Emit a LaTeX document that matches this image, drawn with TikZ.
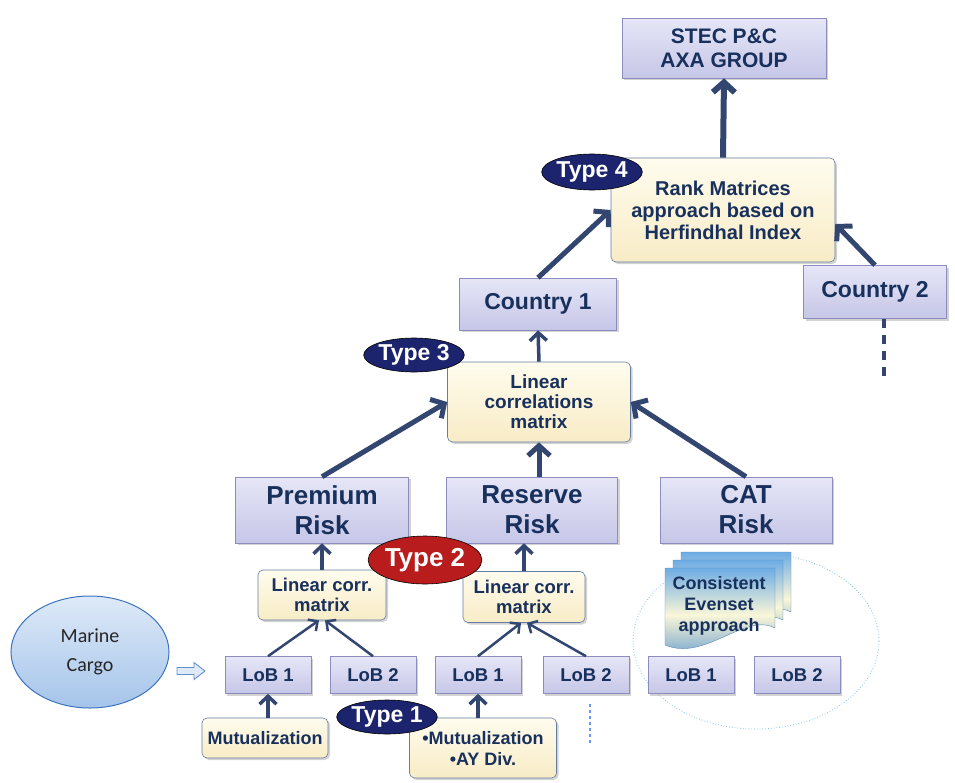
\documentclass[tikz,border=0pt]{standalone}
\usepackage{fontspec}
\setmainfont{Liberation Sans}
\newfontfamily\cargofont{Carlito}
\usetikzlibrary{arrows.meta,shapes.geometric,shadows}

\definecolor{navytext}{RGB}{24,48,92}
\definecolor{arrowc}{RGB}{50,70,112}
\definecolor{lavtop}{RGB}{230,230,247}
\definecolor{lavbot}{RGB}{198,198,232}
\definecolor{lavline}{RGB}{140,140,190}
\definecolor{creamtop}{RGB}{255,252,238}
\definecolor{creambot}{RGB}{248,236,198}
\definecolor{creamline}{RGB}{100,125,165}
\definecolor{typeblue}{RGB}{28,36,110}
\definecolor{typered}{RGB}{185,28,28}
\definecolor{cargotop}{RGB}{222,234,248}
\definecolor{cargobot}{RGB}{165,196,234}
\definecolor{cargoline}{RGB}{62,115,190}
\definecolor{evblue}{RGB}{110,172,228}
\definecolor{evcream}{RGB}{250,246,216}
\definecolor{ringc}{RGB}{130,190,235}

\newcommand{\fsz}[2]{\fontsize{#1}{#2}\selectfont}
\newcommand{\blt}{\textbullet}

\tikzset{
  riskbox/.style={draw=lavline, line width=0.6pt, top color=lavtop, bottom color=lavbot,
    text=navytext, font=\bfseries, align=center, inner sep=1pt,
    drop shadow={opacity=0.35, shadow xshift=2pt, shadow yshift=-2pt}},
  matbox/.style={riskbox, draw=creamline, top color=creamtop, bottom color=creambot, rounded corners=5pt},
  typetag/.style={ellipse, draw=black, line width=0.6pt, fill=typeblue, text=white, font=\bfseries, inner sep=0pt},
  bigarrow/.style={draw=arrowc, line width=5pt, -{Straight Barb[length=10pt,width=22pt]}},
  midarrow/.style={draw=arrowc, line width=3.5pt, -{Straight Barb[length=8pt,width=17pt]}},
  smallarrow/.style={draw=arrowc, line width=2.5pt, -{Straight Barb[length=7pt,width=14pt]}}
}

\begin{document}
\begin{tikzpicture}[x=1pt, y=-1pt]
	%%%%% START %%%%%
	\useasboundingbox (0,0) rectangle (955,782);

	% top levels
	\node[riskbox, minimum width=204pt, minimum height=60pt, font=\bfseries\fsz{21}{24}] (stec) at (724,48) {STEC P\&C\\AXA GROUP};
	\node[matbox, minimum width=224pt, minimum height=104pt, font=\bfseries\fsz{20}{22}] (rank) at (723,210) {Rank Matrices\\approach based on\\Herfindhal Index};
	\node[riskbox, minimum width=157pt, minimum height=52pt, font=\bfseries\fsz{23}{24}] (c1) at (538,304) {Country 1};
	\node[riskbox, minimum width=143pt, minimum height=53pt, font=\bfseries\fsz{23}{24}] (c2) at (875,292) {Country 2};
	\node[matbox, minimum width=183pt, minimum height=80pt, font=\bfseries\fsz{19}{20}] (lin) at (539,402) {Linear\\correlations\\matrix};

	% risk modules
	\node[riskbox, minimum width=173pt, minimum height=66pt, font=\bfseries\fsz{26}{30}] (prem) at (322,510) {Premium\\Risk};
	\node[riskbox, minimum width=171pt, minimum height=66pt, font=\bfseries\fsz{26}{30}] (res) at (532,510) {Reserve\\Risk};
	\node[riskbox, minimum width=172pt, minimum height=66pt, font=\bfseries\fsz{26}{30}] (cat) at (746,510) {CAT\\Risk};

	\node[matbox, minimum width=128pt, minimum height=50pt, font=\bfseries\fsz{18.5}{20}] (lca) at (322,595) {Linear corr.\\matrix};
	\node[matbox, minimum width=122pt, minimum height=51pt, font=\bfseries\fsz{18.5}{20}] (lcb) at (524,597) {Linear corr.\\matrix};

	% CAT evenset
	\draw[ringc, line width=0.8pt, dotted] (756,641) ellipse [x radius=123, y radius=88];
	\foreach \d in {16,8,0}
	  \draw[shift={(\d,-\d)}, draw=evblue!80!black, line width=0.4pt, top color=evblue, bottom color=evblue!90!black, middle color=evcream]
	    (665,568) -- (775,568) -- (775,628) .. controls (745,612) and (705,662) .. (665,645) -- cycle;
	\node[text=navytext, align=center, font=\bfseries\fsz{18}{21}] (evs) at (719,606) {Consistent\\Evenset\\approach};

	% LoB row
	\foreach \nm/\x/\t in {loba1/268/LoB 1, loba2/373/LoB 2, lobb1/478/LoB 1, lobb2/586/LoB 2, lobc1/691/LoB 1, lobc2/797/LoB 2}
	  \node[riskbox, minimum width=86pt, minimum height=37pt, font=\bfseries\fsz{18.5}{20}] (\nm) at (\x,675) {\t};

	\node[matbox, minimum width=126pt, minimum height=40pt, font=\bfseries\fsz{18}{20}] (muta) at (265,738) {Mutualization};
	\node[matbox, minimum width=147pt, minimum height=60pt, font=\bfseries\fsz{18}{21}] (mutb) at (483,748) {\blt Mutualization\\\blt AY Div.};

	% marine cargo
	\node[ellipse, draw=cargoline, line width=1pt, top color=cargotop, bottom color=cargobot,
	  minimum width=158pt, minimum height=112pt, text=black!85, align=center, font=\cargofont\fsz{20}{29}] (cargo) at (90,652) {Marine\\Cargo};
	\coordinate (dbls) at (177,671);
	\coordinate (dble) at (205,671);
	\draw[cargoline!80, line width=0.9pt, fill=cargotop, line join=miter]
	  (dbls) ++(0,-3.5) -- ++(17,0) -- ++(0,-5) -- (dble) -- ++(-11,8.5) -- ++(0,-5) -- ++(-17,0) -- cycle;

	% connectors
	\draw[bigarrow, line width=6pt] (rank.north) -- (stec.south);
	\draw[bigarrow] (c1.north) -- (rank.west);
	\draw[bigarrow] (c2.north) -- ([yshift=-14pt]rank.east);
	\coordinate (c2tail) at (884,378);
	\draw[arrowc, line width=4pt, dash pattern=on 9pt off 7pt] (c2.south -| c2tail) -- (c2tail);
	\draw[midarrow] (lin.north) -- (c1.south);
	\draw[bigarrow] (prem.north) -- (lin.west);
	\draw[bigarrow] (res.north -| lin.south) -- (lin.south);
	\draw[bigarrow] (cat.north) -- (lin.east);
	\draw[midarrow] (lca.north) -- (prem.south);
	\draw[midarrow] (lcb.north) -- (lcb.north |- res.south);
	\draw[smallarrow] (loba1.north) -- ([xshift=-3pt]lca.south);
	\draw[smallarrow] (loba2.north) -- ([xshift=3pt]lca.south);
	\draw[smallarrow] (lobb1.north) -- ([xshift=-3pt]lcb.south);
	\draw[smallarrow] (lobb2.north) -- ([xshift=3pt]lcb.south);
	\draw[midarrow] (muta.north -| loba1.south) -- (loba1.south);
	\draw[midarrow] (lobb1.south |- mutb.north) -- (lobb1.south);
	\coordinate (lobtail) at (590,745);
	\draw[ringc!80!blue, line width=1.2pt, dashed, shorten <=10pt] (lobb2.south -| lobtail) -- (lobtail);

	% type tags
	\node[typetag, minimum width=100pt, minimum height=36pt, font=\bfseries\fsz{23}{24}] (t4) at (592,172) {Type 4};
	\node[typetag, minimum width=96pt, minimum height=34pt, font=\bfseries\fsz{23}{24}] (t3) at (414,355) {Type 3};
	\node[typetag, fill=typered, minimum width=112pt, minimum height=48pt, font=\bfseries\fsz{26}{28}] (t2) at (425,560) {Type 2};
	\node[typetag, minimum width=100pt, minimum height=34pt, font=\bfseries\fsz{23}{24}] (t1) at (387,717) {Type 1};

	%%%%% END %%%%%
\end{tikzpicture}
\end{document}
